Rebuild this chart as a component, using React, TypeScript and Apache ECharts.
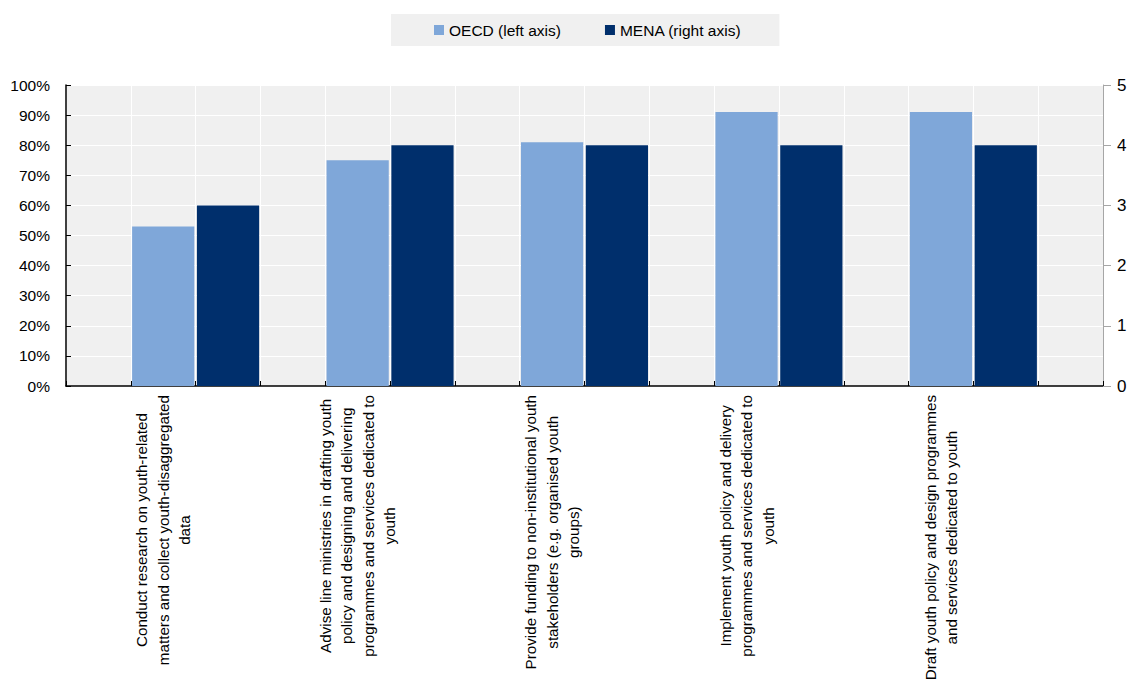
import React, { useEffect, useRef } from "react";
import * as echarts from "echarts";

const categories: string[][] = [
  ["Conduct research on youth-related", "matters and collect youth-disaggregated", "data"],
  ["Advise line ministries in drafting youth", "policy and designing and delivering", "programmes and services dedicated to", "youth"],
  ["Provide funding to non-institutional youth", "stakeholders (e.g. organised youth", "groups)"],
  ["Implement youth policy and delivery", "programmes and services dedicated to", "youth"],
  ["Draft youth policy and design programmes", "and services dedicated to youth"],
];
const oecdValues = [53, 75, 81, 91, 91]; // percent, left axis
const menaValues = [3, 4, 4, 4, 4]; // count, right axis
const leftTicks = { min: 0, max: 100, interval: 10 };
const rightTicks = { min: 0, max: 5, interval: 1 };
const seriesNames = ["OECD (left axis)", "MENA (right axis)"];

const FONT = "'Liberation Sans', Arial, sans-serif";
const OECD_COLOR = "#7FA7D9";
const MENA_COLOR = "#002F6C";

// Each category occupies three slots: [OECD, MENA, gap], preceded by one leading gap.
const SLOTS = categories.length * 3 + 1;
const slotNames = Array.from({ length: SLOTS }, (_, i) => "s" + i);
const oecdSlots = slotNames.map((_, i) =>
  i % 3 === 1 ? oecdValues[(i - 1) / 3] : null
);
const menaSlots = slotNames.map((_, i) =>
  i % 3 === 2 ? menaValues[(i - 2) / 3] : null
);

export default function App() {
  const ref = useRef<HTMLDivElement>(null);
  useEffect(() => {
    if (!ref.current) return;
    const chart = echarts.init(ref.current, undefined, { renderer: "svg" });
    chart.setOption({
      animation: false,
      backgroundColor: "#ffffff",
      legend: {
        left: 391,
        top: 14,
        padding: [8, 38, 8, 43],
        backgroundColor: "#F0F0F0",
        itemWidth: 10,
        itemHeight: 10,
        itemGap: 44,
        icon: "rect",
        textStyle: { fontFamily: FONT, fontSize: 15.5, color: "#000" },
        data: seriesNames,
      },
      grid: {
        left: 66,
        right: 34,
        top: 85,
        bottom: 299,
        show: true,
        backgroundColor: "#F0F0F0",
        borderWidth: 0,
        containLabel: false,
        outerBoundsMode: "none",
      },
      xAxis: {
        type: "category",
        data: slotNames,
        boundaryGap: true,
        axisLine: { show: true, lineStyle: { color: "#000", width: 1.5 } },
        axisTick: {
          show: true,
          inside: true,
          length: 5,
          interval: 0,
          lineStyle: { color: "#000" },
        },
        splitLine: {
          show: true,
          interval: 0,
          lineStyle: { color: "#ffffff", width: 1 },
        },
        axisLabel: {
          interval: 0,
          rotate: 90,
          margin: 9,
          hideOverlap: false,
          fontFamily: FONT,
          fontSize: 15.2,
          lineHeight: 21.5,
          color: "#000",
          formatter: (_v: string, idx: number) => {
            if (idx % 3 !== 1) return "";
            const lines = categories[(idx - 1) / 3];
            return lines.map((l) => "{c|" + l + "}").join("\n");
          },
          rich: {
            c: {
              align: "center",
              fontFamily: FONT,
              fontSize: 15.2,
              lineHeight: 21.5,
              color: "#000",
            },
          },
        },
      },
      yAxis: [
        {
          type: "value",
          position: "left",
          min: leftTicks.min,
          max: leftTicks.max,
          interval: leftTicks.interval,
          axisLine: { show: true, lineStyle: { color: "#000", width: 1.5 } },
          axisTick: { show: true, inside: true, length: 5, lineStyle: { color: "#000" } },
          splitLine: { show: true, lineStyle: { color: "#ffffff", width: 1 } },
          axisLabel: {
            formatter: "{value}%",
            margin: 16,
            fontFamily: FONT,
            fontSize: 15.5,
            color: "#000",
          },
        },
        {
          type: "value",
          position: "right",
          min: rightTicks.min,
          max: rightTicks.max,
          interval: rightTicks.interval,
          axisLine: { show: true, lineStyle: { color: "#A6A6A6", width: 1 } },
          axisTick: { show: true, inside: false, length: 8, lineStyle: { color: "#A6A6A6" } },
          splitLine: { show: false },
          axisLabel: {
            margin: 14,
            fontFamily: FONT,
            fontSize: 17,
            color: "#000",
          },
        },
      ],
      series: [
        {
          name: seriesNames[0],
          type: "bar",
          yAxisIndex: 0,
          data: oecdSlots,
          barGap: "-100%",
          barCategoryGap: "4%",
          itemStyle: { color: OECD_COLOR },
        },
        {
          name: seriesNames[1],
          type: "bar",
          yAxisIndex: 1,
          data: menaSlots,
          barGap: "-100%",
          barCategoryGap: "4%",
          itemStyle: { color: MENA_COLOR },
        },
      ],
    });
    return () => chart.dispose();
  }, []);
  return (
    <div
      ref={ref}
      style={{ position: "fixed", left: 0, top: 0, width: 1137, height: 685 }}
    />
  );
}
